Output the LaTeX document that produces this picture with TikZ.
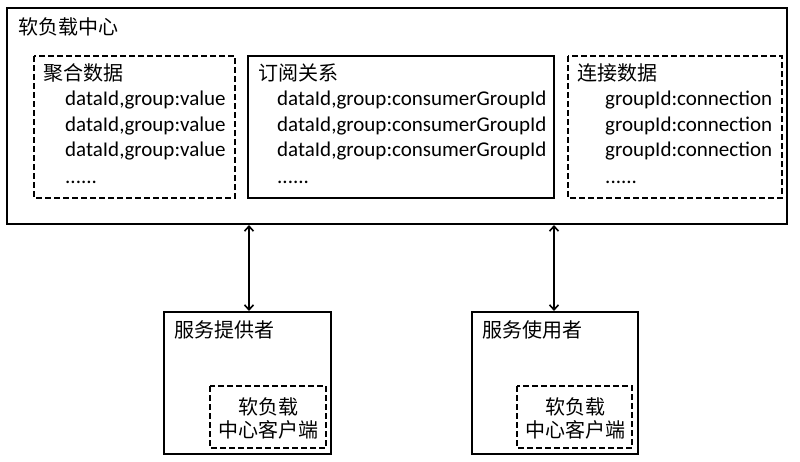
\documentclass[tikz,border=0pt]{standalone}
\usepackage{fontspec}
\setmainfont{Carlito}
\newfontfamily\cjk{Noto Sans CJK SC}
\usetikzlibrary{arrows.meta}
\begin{document}
\begin{tikzpicture}[x=1pt,y=-1pt,
  box/.style={draw=black,line width=1.6pt},
  dbox/.style={draw=black,line width=1.6pt,dash pattern=on 6pt off 3pt},
  txt/.style={anchor=base west,inner sep=0pt,font=\fontsize{21pt}{24pt}\selectfont},
  ctitle/.style={anchor=base west,inner sep=0pt,font=\fontsize{20pt}{24pt}\selectfont\cjk},
  ctxt/.style={anchor=base,inner sep=0pt,font=\fontsize{20pt}{24pt}\selectfont\cjk},
  link/.style={line width=1.6pt,{Straight Barb[length=5pt,width=9pt,line width=1.6pt]}-{Straight Barb[length=5pt,width=9pt,line width=1.6pt]}}
]
\useasboundingbox (0,0) rectangle (800,461);
\fill[white] (0,0) rectangle (800,461);
% outer box
\draw[box] (7,8) rectangle (787,224);
\node[ctitle] (title) at (18,34) {软负载中心};
% box 1
\draw[dbox] (34,56) rectangle (235,198);
\node[ctitle] (t1) at (43,80) {聚合数据};
\node[txt] (a1) at (65,105) {dataId,group:value};
\node[txt] (a2) at (65,131) {dataId,group:value};
\node[txt] (a3) at (65,156) {dataId,group:value};
\node[txt] (a4) at (65,183) {......};
% box 2
\draw[box] (248,56) rectangle (554,198);
\node[ctitle] (t2) at (258,80) {订阅关系};
\node[txt] (b1) at (277,105) {dataId,group:consumerGroupId};
\node[txt] (b2) at (277,131) {dataId,group:consumerGroupId};
\node[txt] (b3) at (277,156) {dataId,group:consumerGroupId};
\node[txt] (b4) at (277,183) {......};
% box 3
\draw[dbox] (568,56) rectangle (782,198);
\node[ctitle] (t3) at (577,80) {连接数据};
\node[txt] (c1) at (605,105) {groupId:connection};
\node[txt] (c2) at (605,131) {groupId:connection};
\node[txt] (c3) at (605,156) {groupId:connection};
\node[txt] (c4) at (605,183) {......};
% bottom boxes
\draw[box] (164,312) rectangle (331,454);
\node[ctitle] (p) at (174,337) {服务提供者};
\draw[dbox] (210,386) rectangle (326,448);
\node[ctxt] (p1) at (268,414) {软负载};
\node[ctxt] (p2) at (268,437) {中心客户端};
\draw[box] (472,312) rectangle (638,454);
\node[ctitle] (u) at (482,337) {服务使用者};
\draw[dbox] (517,386) rectangle (632,448);
\node[ctxt] (u1) at (575,414) {软负载};
\node[ctxt] (u2) at (575,437) {中心客户端};
% arrows
\coordinate (s1) at (249,225);
\coordinate (e1) at (249,311);
\coordinate (s2) at (554,225);
\coordinate (e2) at (554,311);
\draw[link] (s1) -- (e1);
\draw[link] (s2) -- (e2);
\end{tikzpicture}
\end{document}
